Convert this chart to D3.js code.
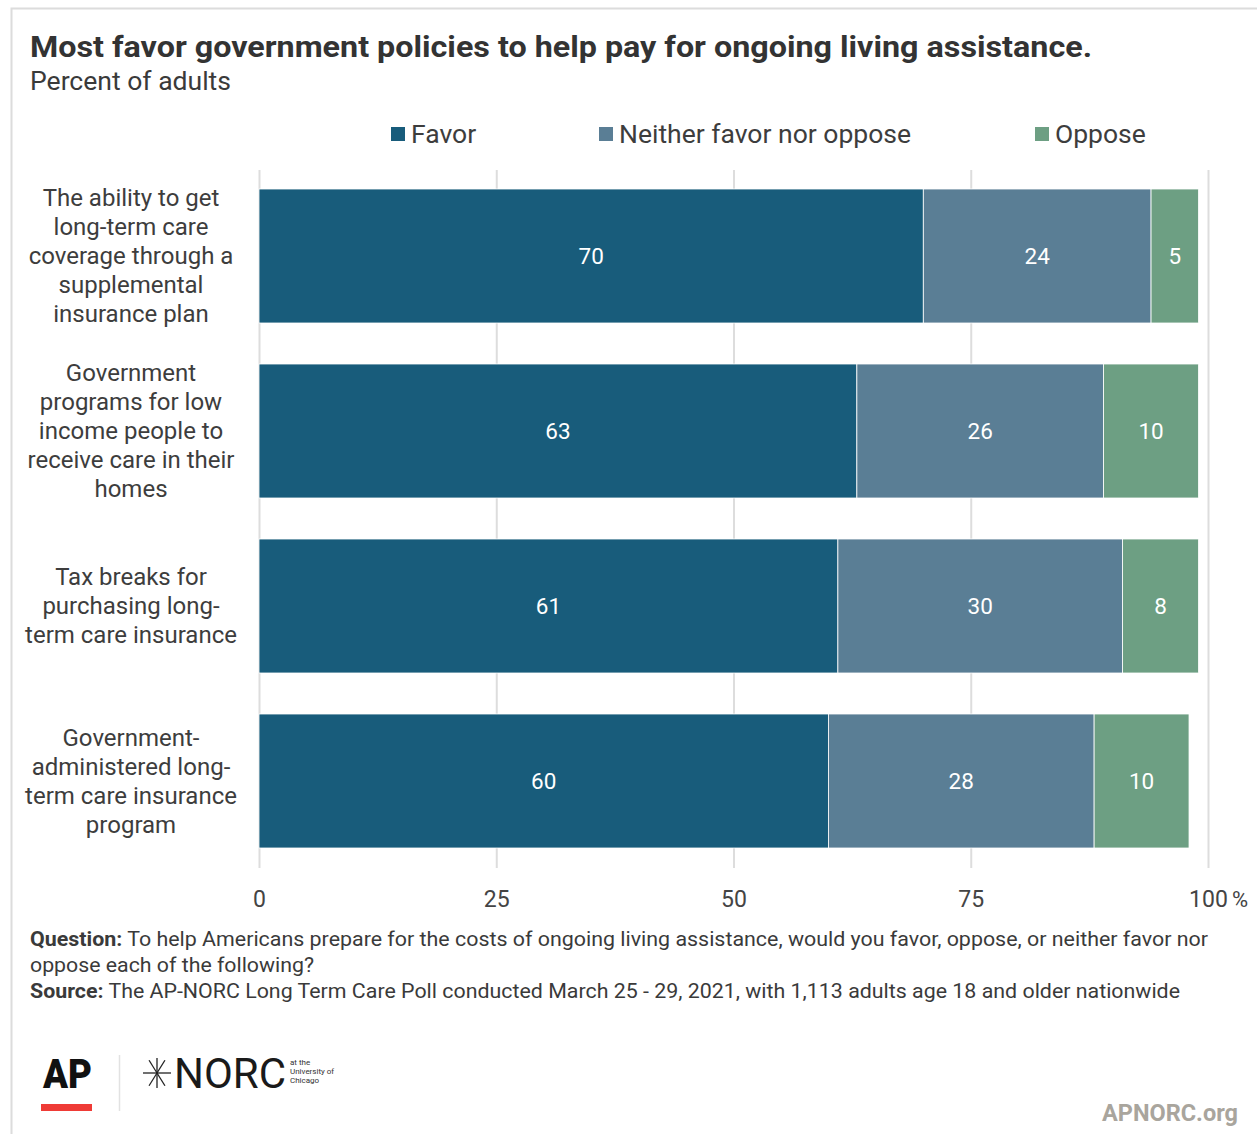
<!DOCTYPE html>
<html>
<head>
<meta charset="utf-8">
<script src="https://cdn.jsdelivr.net/npm/d3@7"></script>
<style>
  html, body { margin: 0; padding: 0; background: #fff; }
  svg { display: block; font-family: Roboto, "Noto Sans", sans-serif; }
</style>
</head>
<body>
<svg id="chart" width="1257" height="1134"></svg>
<script>
// Survey items (label lines as shown on the axis)
const categories = [
  "The ability to get long-term care coverage through a supplemental insurance plan",
  "Government programs for low income people to receive care in their homes",
  "Tax breaks for purchasing long-term care insurance",
  "Government-administered long-term care insurance program"
];
const categoryLines = [
  ["The ability to get", "long-term care", "coverage through a", "supplemental", "insurance plan"],
  ["Government", "programs for low", "income people to", "receive care in their", "homes"],
  ["Tax breaks for", "purchasing long-", "term care insurance"],
  ["Government-", "administered long-", "term care insurance", "program"]
];
const seriesNames = ["Favor", "Neither favor nor oppose", "Oppose"];
const favor   = [70, 63, 61, 60];
const neither = [24, 26, 30, 28];
const oppose  = [5, 10, 8, 10];
const tickValues = [0, 25, 50, 75, 100];

const colors = ["#185c7b", "#5a7e95", "#6d9f83"];

const svg = d3.select("#chart");

// Outer frame
svg.append("path")
  .attr("d", "M11.5,1134 L11.5,8.5 L1257,8.5")
  .attr("fill", "none").attr("stroke", "#dcdcdc").attr("stroke-width", 2);

// Title and subtitle
svg.append("text")
  .attr("x", 30).attr("y", 57)
  .attr("font-size", 30).attr("font-weight", 700).attr("fill", "#333")
  .attr("textLength", 1062).attr("lengthAdjust", "spacingAndGlyphs")
  .text("Most favor government policies to help pay for ongoing living assistance.");
svg.append("text")
  .attr("x", 30).attr("y", 90)
  .attr("font-size", 25).attr("fill", "#3a3a3a")
  .attr("textLength", 201).attr("lengthAdjust", "spacingAndGlyphs")
  .text("Percent of adults");

// Scales
const x = d3.scaleLinear().domain([0, 100]).range([259, 1208]);
const y = d3.scaleBand().domain(categories).range([168.5, 868.5])
  .paddingInner(41 / 175).paddingOuter(20.5 / 175);

// Gridlines
const grid = svg.append("g").attr("transform", "translate(0,868)")
  .call(d3.axisBottom(x).tickValues(tickValues).tickSize(-698).tickFormat(""));
grid.select(".domain").remove();
grid.selectAll(".tick line").attr("stroke", "#dddddd").attr("stroke-width", 2);

// Tick labels
const axis = svg.append("g").attr("transform", "translate(0,868)")
  .call(d3.axisBottom(x).tickValues(tickValues).tickSize(0).tickPadding(23).tickFormat(d3.format("d")));
axis.select(".domain").remove();
axis.selectAll(".tick text")
  .attr("font-size", 23).attr("fill", "#444").attr("font-family", "Roboto, sans-serif");
svg.append("text")
  .attr("x", x(100) + 24).attr("y", 907)
  .attr("font-size", 22).attr("fill", "#444")
  .text("%");

// Stacked bars
const rows = categories.map((c, i) => ({
  category: c,
  "Favor": favor[i],
  "Neither favor nor oppose": neither[i],
  "Oppose": oppose[i]
}));
const stacked = d3.stack().keys(seriesNames)(rows);

const layers = svg.append("g").selectAll("g")
  .data(stacked).join("g")
  .attr("fill", (d, i) => colors[i]);

layers.selectAll("rect")
  .data(d => d.map(p => ({ p, key: d.key })))
  .join("rect")
  .attr("x", d => x(d.p[0]))
  .attr("y", d => y(d.p.data.category))
  .attr("width", d => x(d.p[1]) - x(d.p[0]))
  .attr("height", y.bandwidth())
  .attr("stroke", "#fff").attr("stroke-width", 0.8);

layers.selectAll("text")
  .data(d => d.map(p => ({ p, key: d.key })))
  .join("text")
  .attr("x", d => (x(d.p[0]) + x(d.p[1])) / 2)
  .attr("y", d => y(d.p.data.category) + y.bandwidth() / 2)
  .attr("dy", "0.36em")
  .attr("text-anchor", "middle")
  .attr("font-size", 22.5).attr("fill", "#fff")
  .text(d => d.p[1] - d.p[0]);

// Category labels
const labels = svg.append("g").selectAll("text")
  .data(categories).join("text")
  .attr("text-anchor", "middle")
  .attr("font-size", 24).attr("fill", "#3d3d3d");
labels.each(function (c, i) {
  const lines = categoryLines[i];
  const cy = y(c) + y.bandwidth() / 2;
  const lh = 29;
  const top = cy - (lines.length - 1) * lh / 2;
  d3.select(this).selectAll("tspan").data(lines).join("tspan")
    .attr("x", 131)
    .attr("y", (d, k) => top + k * lh)
    .attr("dy", "0.35em")
    .text(d => d);
});

// Legend
const legendX = [391, 599, 1035];
const legend = svg.append("g").selectAll("g")
  .data(seriesNames).join("g")
  .attr("transform", (d, i) => `translate(${legendX[i]},127)`);
legend.append("rect")
  .attr("width", 14).attr("height", 14)
  .attr("fill", (d, i) => colors[i]);
legend.append("text")
  .attr("x", 20).attr("y", 16)
  .attr("font-size", 26.5).attr("fill", "#3d3d3d")
  .text(d => d);

// Notes
const notes = svg.append("g").attr("font-size", 20).attr("fill", "#3a3a3a");
const q = notes.append("text").attr("x", 30).attr("y", 946)
  .attr("textLength", 1178).attr("lengthAdjust", "spacingAndGlyphs");
q.append("tspan").attr("font-weight", 700).text("Question:");
q.append("tspan").text(" To help Americans prepare for the costs of ongoing living assistance, would you favor, oppose, or neither favor nor");
notes.append("text").attr("x", 30).attr("y", 972)
  .attr("textLength", 284).attr("lengthAdjust", "spacingAndGlyphs")
  .text("oppose each of the following?");
const s = notes.append("text").attr("x", 30).attr("y", 998)
  .attr("textLength", 1150).attr("lengthAdjust", "spacingAndGlyphs");
s.append("tspan").attr("font-weight", 700).text("Source:");
s.append("tspan").text(" The AP-NORC Long Term Care Poll conducted March 25 - 29, 2021, with 1,113 adults age 18 and older nationwide");

// Logos
const logo = svg.append("g");
logo.append("text").attr("x", 43).attr("y", 1088)
  .attr("font-size", 41).attr("font-weight", 900).attr("fill", "#111")
  .attr("textLength", 49).attr("lengthAdjust", "spacingAndGlyphs")
  .text("AP");
logo.append("rect").attr("x", 41).attr("y", 1104).attr("width", 51).attr("height", 7).attr("fill", "#ef3b36");
logo.append("line").attr("x1", 119.5).attr("x2", 119.5).attr("y1", 1055).attr("y2", 1111)
  .attr("stroke", "#e2e2e2").attr("stroke-width", 1.5);
// NORC star
const star = logo.append("g").attr("transform", "translate(157,1073)").attr("stroke", "#222").attr("stroke-width", 1.3);
[0, 58, 90, 122].forEach(a => {
  const r = (a * Math.PI) / 180;
  const l = a === 0 ? 14 : 15;
  star.append("line")
    .attr("x1", -l * Math.cos(r)).attr("y1", -l * Math.sin(r))
    .attr("x2", l * Math.cos(r)).attr("y2", l * Math.sin(r));
});
logo.append("text").attr("x", 174).attr("y", 1088)
  .attr("font-size", 42).attr("font-weight", 400).attr("fill", "#1a1a1a")
  .attr("textLength", 112).attr("lengthAdjust", "spacingAndGlyphs")
  .text("NORC");
const small = logo.append("g").attr("font-size", 8).attr("fill", "#333");
["at the", "University of", "Chicago"].forEach((t, i) => {
  small.append("text").attr("x", 290).attr("y", 1065 + i * 9).text(t);
});

svg.append("text")
  .attr("x", 1238).attr("y", 1121)
  .attr("text-anchor", "end")
  .attr("font-size", 23.5).attr("font-weight", 700).attr("fill", "#a9a59d")
  .text("APNORC.org");
</script>
</body>
</html>
